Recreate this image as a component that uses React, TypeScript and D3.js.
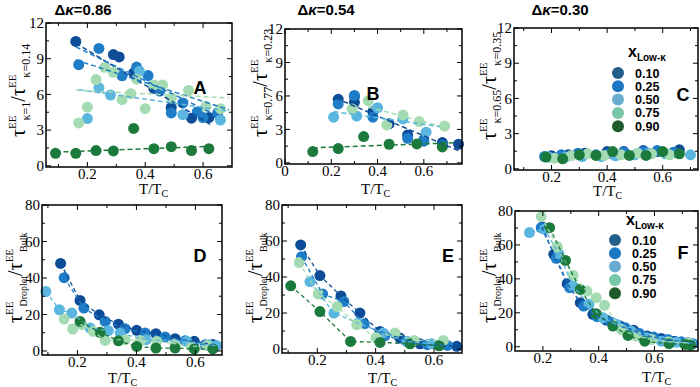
import React from 'react';
import * as d3 from 'd3';

type Pt = [number, number];

const fractions = ['0.10', '0.25', '0.50', '0.75', '0.90'];
const dotColors = ['#0d4d98', '#1f7cc7', '#5bb6df', '#a4dbb2', '#1b7a3c'];
const legendColors = ['#235f8a', '#1c77c3', '#6aacd0', '#78c7a6', '#1f5b2a'];

// top row: tau ratio vs T/Tc
const a10: Pt[] = [[0.16, 10.45], [0.29, 9.35], [0.31, 9.15], [0.36, 7.8], [0.43, 6.5], [0.49, 4.9], [0.56, 4.0], [0.62, 4.05]];
const a25: Pt[] = [[0.17, 8.5], [0.24, 9.86], [0.32, 7.56], [0.37, 8.3], [0.41, 7.58], [0.45, 6.28], [0.49, 4.44], [0.53, 5.28], [0.58, 4.53], [0.60, 4.05], [0.65, 4.4]];
const a50: Pt[] = [[0.20, 3.97], [0.24, 6.55], [0.28, 5.94], [0.38, 7.95], [0.53, 4.3], [0.66, 3.85]];
const a75: Pt[] = [[0.17, 3.6], [0.20, 4.94], [0.23, 7.25], [0.26, 8.28], [0.29, 7.86], [0.32, 5.56], [0.35, 6.06], [0.37, 7.28], [0.40, 4.8], [0.43, 6.8], [0.46, 6.8], [0.49, 5.7], [0.55, 6.33], [0.61, 5.0], [0.66, 4.8]];
const a90: Pt[] = [[0.09, 1.05], [0.16, 1.05], [0.23, 1.28], [0.29, 1.25], [0.36, 3.14], [0.43, 1.44], [0.49, 1.61], [0.56, 1.28], [0.62, 1.44]];
// [series, x0, y0, x1, y1]
const fitA = [[0, 0.16, 10.3, 0.63, 3.4], [1, 0.16, 10.0, 0.65, 4.2], [1, 0.16, 8.9, 0.69, 4.7], [2, 0.17, 6.4, 0.69, 4.6], [3, 0.16, 6.35, 0.69, 5.7], [4, 0.09, 1.15, 0.64, 1.65]];

const b10: Pt[] = [[0.23, 5.7], [0.30, 5.94], [0.30, 5.43], [0.38, 4.6], [0.45, 3.5], [0.53, 2.5], [0.60, 2.06], [0.68, 1.82], [0.75, 1.67]];
const b25: Pt[] = [[0.23, 5.28], [0.30, 6.05], [0.38, 4.1], [0.53, 2.2], [0.60, 1.95], [0.68, 1.55]];
const b50: Pt[] = [[0.21, 4.1], [0.31, 4.2], [0.40, 4.95], [0.51, 3.94], [0.61, 2.75]];
const b75: Pt[] = [[0.29, 4.84], [0.36, 5.58], [0.44, 3.4], [0.51, 4.3], [0.58, 3.7], [0.69, 3.3]];
const b90: Pt[] = [[0.12, 1.01], [0.23, 1.28], [0.34, 2.36], [0.45, 1.67], [0.57, 1.7], [0.68, 1.43]];
const fitB = [[0, 0.22, 5.8, 0.76, 1.0], [3, 0.36, 5.0, 0.67, 3.3], [2, 0.21, 4.6, 0.67, 3.25], [4, 0.12, 1.35, 0.73, 1.8]];

const c10: Pt[] = [[0.20, 1.11], [0.26, 1.19], [0.32, 1.33], [0.40, 1.47], [0.46, 1.47], [0.53, 1.56], [0.58, 1.47], [0.64, 1.42], [0.66, 1.62]];
const c25: Pt[] = [[0.175, 1.05], [0.235, 1.19], [0.295, 1.33], [0.36, 1.19], [0.41, 1.33], [0.46, 1.39], [0.53, 1.47], [0.58, 1.56], [0.64, 1.39]];
const c50: Pt[] = [[0.19, 1.0], [0.25, 1.0], [0.31, 1.05], [0.38, 1.05], [0.43, 1.11], [0.50, 1.19], [0.55, 1.33], [0.61, 1.28], [0.70, 1.19]];
const c75: Pt[] = [[0.21, 0.91], [0.27, 1.11], [0.33, 1.28], [0.39, 1.14], [0.45, 1.19], [0.51, 1.33], [0.56, 1.28], [0.625, 1.19]];
const c90: Pt[] = [[0.18, 1.0], [0.24, 0.85], [0.30, 1.19], [0.36, 1.14], [0.42, 1.47], [0.48, 1.14], [0.54, 1.14], [0.60, 1.47], [0.66, 1.28]];

// bottom row: droplet / bulk
const d10: Pt[] = [[0.143, 48], [0.209, 27.7], [0.274, 19.8], [0.339, 14.7], [0.401, 11.3], [0.466, 9.5], [0.531, 6.7], [0.596, 5.3], [0.659, 3.5]];
const d25: Pt[] = [[0.155, 40.2], [0.222, 23.5], [0.294, 16.2], [0.362, 12.2], [0.43, 9.8], [0.497, 7.7], [0.565, 5.6], [0.633, 3.4], [0.67, 2.9]];
const d50: Pt[] = [[0.093, 32.6], [0.139, 22.6], [0.181, 20.8], [0.243, 12.6], [0.305, 11.1], [0.345, 9.8], [0.433, 6.2], [0.571, 5.3], [0.645, 3.4], [0.672, 2.9]];
const d75: Pt[] = [[0.155, 17.5], [0.184, 12.0], [0.215, 14.4], [0.254, 10.7], [0.294, 5.8], [0.362, 6.2], [0.413, 5.6], [0.469, 5.3], [0.53, 4.0], [0.588, 2.5], [0.64, 3.0]];
const d90: Pt[] = [[0.209, 16.2], [0.277, 10.2], [0.339, 5.6], [0.401, 2.5], [0.466, 1.6], [0.531, 1.6], [0.596, 1.1], [0.659, 1.1]];

const e10: Pt[] = [[0.143, 57.8], [0.209, 40.8], [0.281, 29.5], [0.346, 20.0], [0.415, 9.8], [0.483, 6.1], [0.552, 2.9], [0.617, 2.0], [0.678, 1.5]];
const e25: Pt[] = [[0.146, 51.3], [0.218, 30.6], [0.291, 26.4], [0.361, 14.0], [0.432, 7.5], [0.506, 4.2], [0.577, 2.4], [0.646, 2.0]];
const e50: Pt[] = [[0.175, 37.5], [0.257, 20.0], [0.34, 14.4], [0.426, 8.9], [0.508, 4.2], [0.592, 2.9]];
const e75: Pt[] = [[0.138, 48.0], [0.203, 30.6], [0.268, 23.6], [0.335, 13.5], [0.401, 6.4], [0.466, 8.9], [0.532, 4.8], [0.632, 4.8]];
const e90: Pt[] = [[0.109, 35.1], [0.209, 20.8], [0.314, 4.2], [0.415, 3.7], [0.518, 2.9], [0.618, 1.8]];

const f10: Pt[] = [[0.198, 70.6], [0.239, 54.5], [0.287, 37.2], [0.334, 26.0], [0.379, 19.1], [0.427, 15.7], [0.477, 12.2], [0.525, 9.8], [0.574, 6.3], [0.624, 4.9], [0.672, 3.3], [0.72, 2.4]];
const f25: Pt[] = [[0.194, 70.2], [0.248, 52.1], [0.296, 34.8], [0.346, 24.0], [0.394, 17.7], [0.445, 14.5], [0.495, 11.2], [0.547, 7.8], [0.597, 5.7], [0.648, 4.3], [0.696, 2.9], [0.738, 1.8]];
const f50: Pt[] = [[0.152, 67.3], [0.206, 69.2], [0.257, 54.9], [0.308, 35.8], [0.365, 25.0], [0.415, 17.1], [0.463, 13.2], [0.517, 9.2], [0.571, 5.3], [0.624, 3.3], [0.678, 2.7], [0.73, 2.0]];
const f75: Pt[] = [[0.194, 76.7], [0.252, 59.0], [0.308, 42.1], [0.358, 32.8], [0.391, 28.9], [0.421, 24.4], [0.481, 10.2], [0.535, 6.3], [0.59, 4.3], [0.65, 2.9], [0.72, 2.2]];
const f90: Pt[] = [[0.224, 70.2], [0.281, 50.9], [0.334, 33.8], [0.391, 19.5], [0.451, 12.2], [0.505, 6.7], [0.565, 3.3], [0.652, 1.8], [0.71, 1.4], [0.729, 0.9]];

const topYTicks = [0, 3, 6, 9, 12];
const topYMinor = [1.5, 4.5, 7.5, 10.5];
const botYTicks = [0, 20, 40, 60, 80];
const botYMinor = [10, 30, 50, 70];
const xTicks = [0.2, 0.4, 0.6];
const xMinor = [0.1, 0.3, 0.5, 0.7];

const serif = '"Liberation Serif", "DejaVu Serif", serif';
const sans = '"Liberation Sans", Arial, sans-serif';

const panels = [
  { key: 'A', l: 46, t: 23, r: 232, b: 167, xd: [0.057, 0.70], yd: [-0.1, 12], yt: topYTicks, ym: topYMinor, xt: xTicks,
    series: [a10, a25, a50, a75, a90], fits: fitA, connect: false, letter: [200, 94], title: '0.86', titleX: 83,
    xl: [139, 194], yl: [25, 137], sub1: 'κ=1', sub2: 'κ=0.14', legend: null },
  { key: 'B', l: 285, t: 29, r: 462, b: 164, xd: [0, 0.765], yd: [-0.1, 12], yt: topYTicks, ym: topYMinor, xt: [0, ...xTicks],
    series: [b10, b25, b50, b75, b90], fits: fitB, connect: false, letter: [373, 100], title: '0.54', titleX: 326,
    xl: [361, 194], yl: [267, 137], sub1: 'κ=0.77', sub2: 'κ=0.23', legend: null },
  { key: 'C', l: 514, t: 28, r: 698, b: 170, xd: [0.065, 0.727], yd: [-0.1, 12], yt: topYTicks, ym: topYMinor, xt: xTicks,
    series: [c10, c25, c50, c75, c90], fits: [], connect: false, letter: [683, 101], title: '0.30', titleX: 560,
    xl: [593, 196], yl: [496, 140], sub1: 'κ=0.65', sub2: 'κ=0.35', legend: [618, 73, 628, 57] },
  { key: 'D', l: 42, t: 205, r: 222, b: 355, xd: [0.08, 0.69], yd: [-2.2, 80], yt: botYTicks, ym: botYMinor, xt: xTicks,
    series: [d10, d25, d50, d75, d90], fits: [], connect: true, letter: [200, 262], title: null, titleX: 0,
    xl: [108, 383], yl: [22, 323], sub1: 'Droplet', sub2: 'Bulk', legend: null },
  { key: 'E', l: 282, t: 205, r: 462, b: 353, xd: [0.079, 0.696], yd: [-2.2, 80], yt: botYTicks, ym: botYMinor, xt: xTicks,
    series: [e10, e25, e50, e75, e90], fits: [], connect: true, letter: [448, 262], title: null, titleX: 0,
    xl: [368, 383], yl: [262, 323], sub1: 'Droplet', sub2: 'Bulk', legend: null },
  { key: 'F', l: 515, t: 211, r: 698, b: 351, xd: [0.1, 0.756], yd: [-2.5, 80], yt: botYTicks, ym: botYMinor, xt: xTicks,
    series: [f10, f25, f50, f75, f90], fits: [], connect: true, letter: [683, 259], title: null, titleX: 0,
    xl: [642, 382], yl: [496, 323], sub1: 'Droplet', sub2: 'Bulk', legend: [615, 240, 626, 225] },
];

function YLabel({ x, y, sub1, sub2, top }: any) {
  const main = 20;
  const sup = 11;
  const sub = top ? 12 : 10;
  return (
    <text transform={`translate(${x},${y}) rotate(-90)`} fontFamily={serif} fill="#000">
      <tspan fontSize={main}>τ</tspan>
      <tspan fontSize={sup} dy={-9}>EE</tspan>
      <tspan fontSize={sub} dx={-5} dy={14}>{sub1}</tspan>
      <tspan fontSize={main} dy={-5}>/τ</tspan>
      <tspan fontSize={sup} dy={-9}>EE</tspan>
      <tspan fontSize={sub} dx={-3} dy={14}>{sub2}</tspan>
    </text>
  );
}

function Legend({ pos }: { pos: number[] }) {
  const [cx, cy, tx, ty] = pos;
  return (
    <g fontFamily={sans} fontWeight="bold">
      <text x={tx} y={ty} fontSize={16}>x<tspan fontSize={10} dy={4}>Low-κ</tspan></text>
      {fractions.map((f, i) => (
        <g key={f}>
          <circle cx={cx} cy={cy + i * 13.3} r={6} fill={legendColors[i]} />
          <text x={cx + 17} y={cy + i * 13.3 + 4.5} fontSize={12.5}>{f}</text>
        </g>
      ))}
    </g>
  );
}

function Panel({ p }: { p: any }) {
  const x = d3.scaleLinear().domain(p.xd).range([p.l, p.r]);
  const y = d3.scaleLinear().domain(p.yd).range([p.b, p.t]);
  const line = d3.line<Pt>().x(d => x(d[0])).y(d => y(d[1]));
  const maj = 5;
  const mnr = 3;
  const fmtY = (v: number) => String(v);
  const fmtX = (v: number) => (v === 0 ? '0' : d3.format('.1f')(v));
  return (
    <g>
      {p.series.map((s: Pt[], i: number) =>
        s.map((d, j) => <circle key={`${i}-${j}`} cx={x(d[0])} cy={y(d[1])} r={5.5} fill={dotColors[i]} />)
      )}
      {p.connect && p.series.map((s: Pt[], i: number) => (
        <path key={`c${i}`} d={line(s) || ''} fill="none" stroke={dotColors[i]} strokeWidth={1.3} strokeDasharray="4,3" />
      ))}
      {p.fits.map((f: number[], i: number) => (
        <path key={`f${i}`} d={line([[f[1], f[2]], [f[3], f[4]]]) || ''} fill="none" stroke={dotColors[f[0]]}
          strokeWidth={1.5} strokeDasharray="5,3" />
      ))}
      <rect x={p.l} y={p.t} width={p.r - p.l} height={p.b - p.t} fill="none" stroke="#000" strokeWidth={1.5} />
      {p.yt.map((v: number) => (
        <g key={`y${v}`}>
          <line x1={p.l} x2={p.l + maj} y1={y(v)} y2={y(v)} stroke="#000" />
          <line x1={p.r} x2={p.r - maj} y1={y(v)} y2={y(v)} stroke="#000" />
          <text x={p.l - 2} y={y(v)} dy="0.35em" textAnchor="end" fontFamily={serif} fontSize={15}>{fmtY(v)}</text>
        </g>
      ))}
      {p.ym.map((v: number) => (
        <g key={`ym${v}`}>
          <line x1={p.l} x2={p.l + mnr} y1={y(v)} y2={y(v)} stroke="#000" />
          <line x1={p.r} x2={p.r - mnr} y1={y(v)} y2={y(v)} stroke="#000" />
        </g>
      ))}
      {p.xt.map((v: number) => (
        <g key={`x${v}`}>
          <line x1={x(v)} x2={x(v)} y1={p.b} y2={p.b - maj} stroke="#000" />
          <line x1={x(v)} x2={x(v)} y1={p.t} y2={p.t + maj} stroke="#000" />
          <text x={x(v)} y={p.b + 12} textAnchor="middle" fontFamily={serif} fontSize={15}>{fmtX(v)}</text>
        </g>
      ))}
      {xMinor.filter(v => v > p.xd[0] && v < p.xd[1]).map(v => (
        <g key={`xm${v}`}>
          <line x1={x(v)} x2={x(v)} y1={p.b} y2={p.b - mnr} stroke="#000" />
          <line x1={x(v)} x2={x(v)} y1={p.t} y2={p.t + mnr} stroke="#000" />
        </g>
      ))}
      <text x={p.xl[0]} y={p.xl[1]} fontFamily={serif} fontSize={15}>T/T<tspan fontSize={10} dy={3}>C</tspan></text>
      <YLabel x={p.yl[0]} y={p.yl[1]} sub1={p.sub1} sub2={p.sub2} top={p.sub1 !== 'Droplet'} />
      <text x={p.letter[0]} y={p.letter[1]} textAnchor="middle" fontFamily={sans} fontWeight="bold" fontSize={18}>{p.key}</text>
      {p.title && (
        <text x={p.titleX} y={15} textAnchor="middle" fontFamily={sans} fontWeight="bold" fontSize={15}>
          Δ<tspan fontStyle="italic">κ</tspan>={p.title}
        </text>
      )}
      {p.legend && <Legend pos={p.legend} />}
    </g>
  );
}

export default function App() {
  return (
    <svg width={700} height={387} style={{ position: 'absolute', left: 0, top: 0, background: '#fff' }}>
      <rect width={700} height={387} fill="#fff" />
      {panels.map(p => <Panel key={p.key} p={p} />)}
    </svg>
  );
}
